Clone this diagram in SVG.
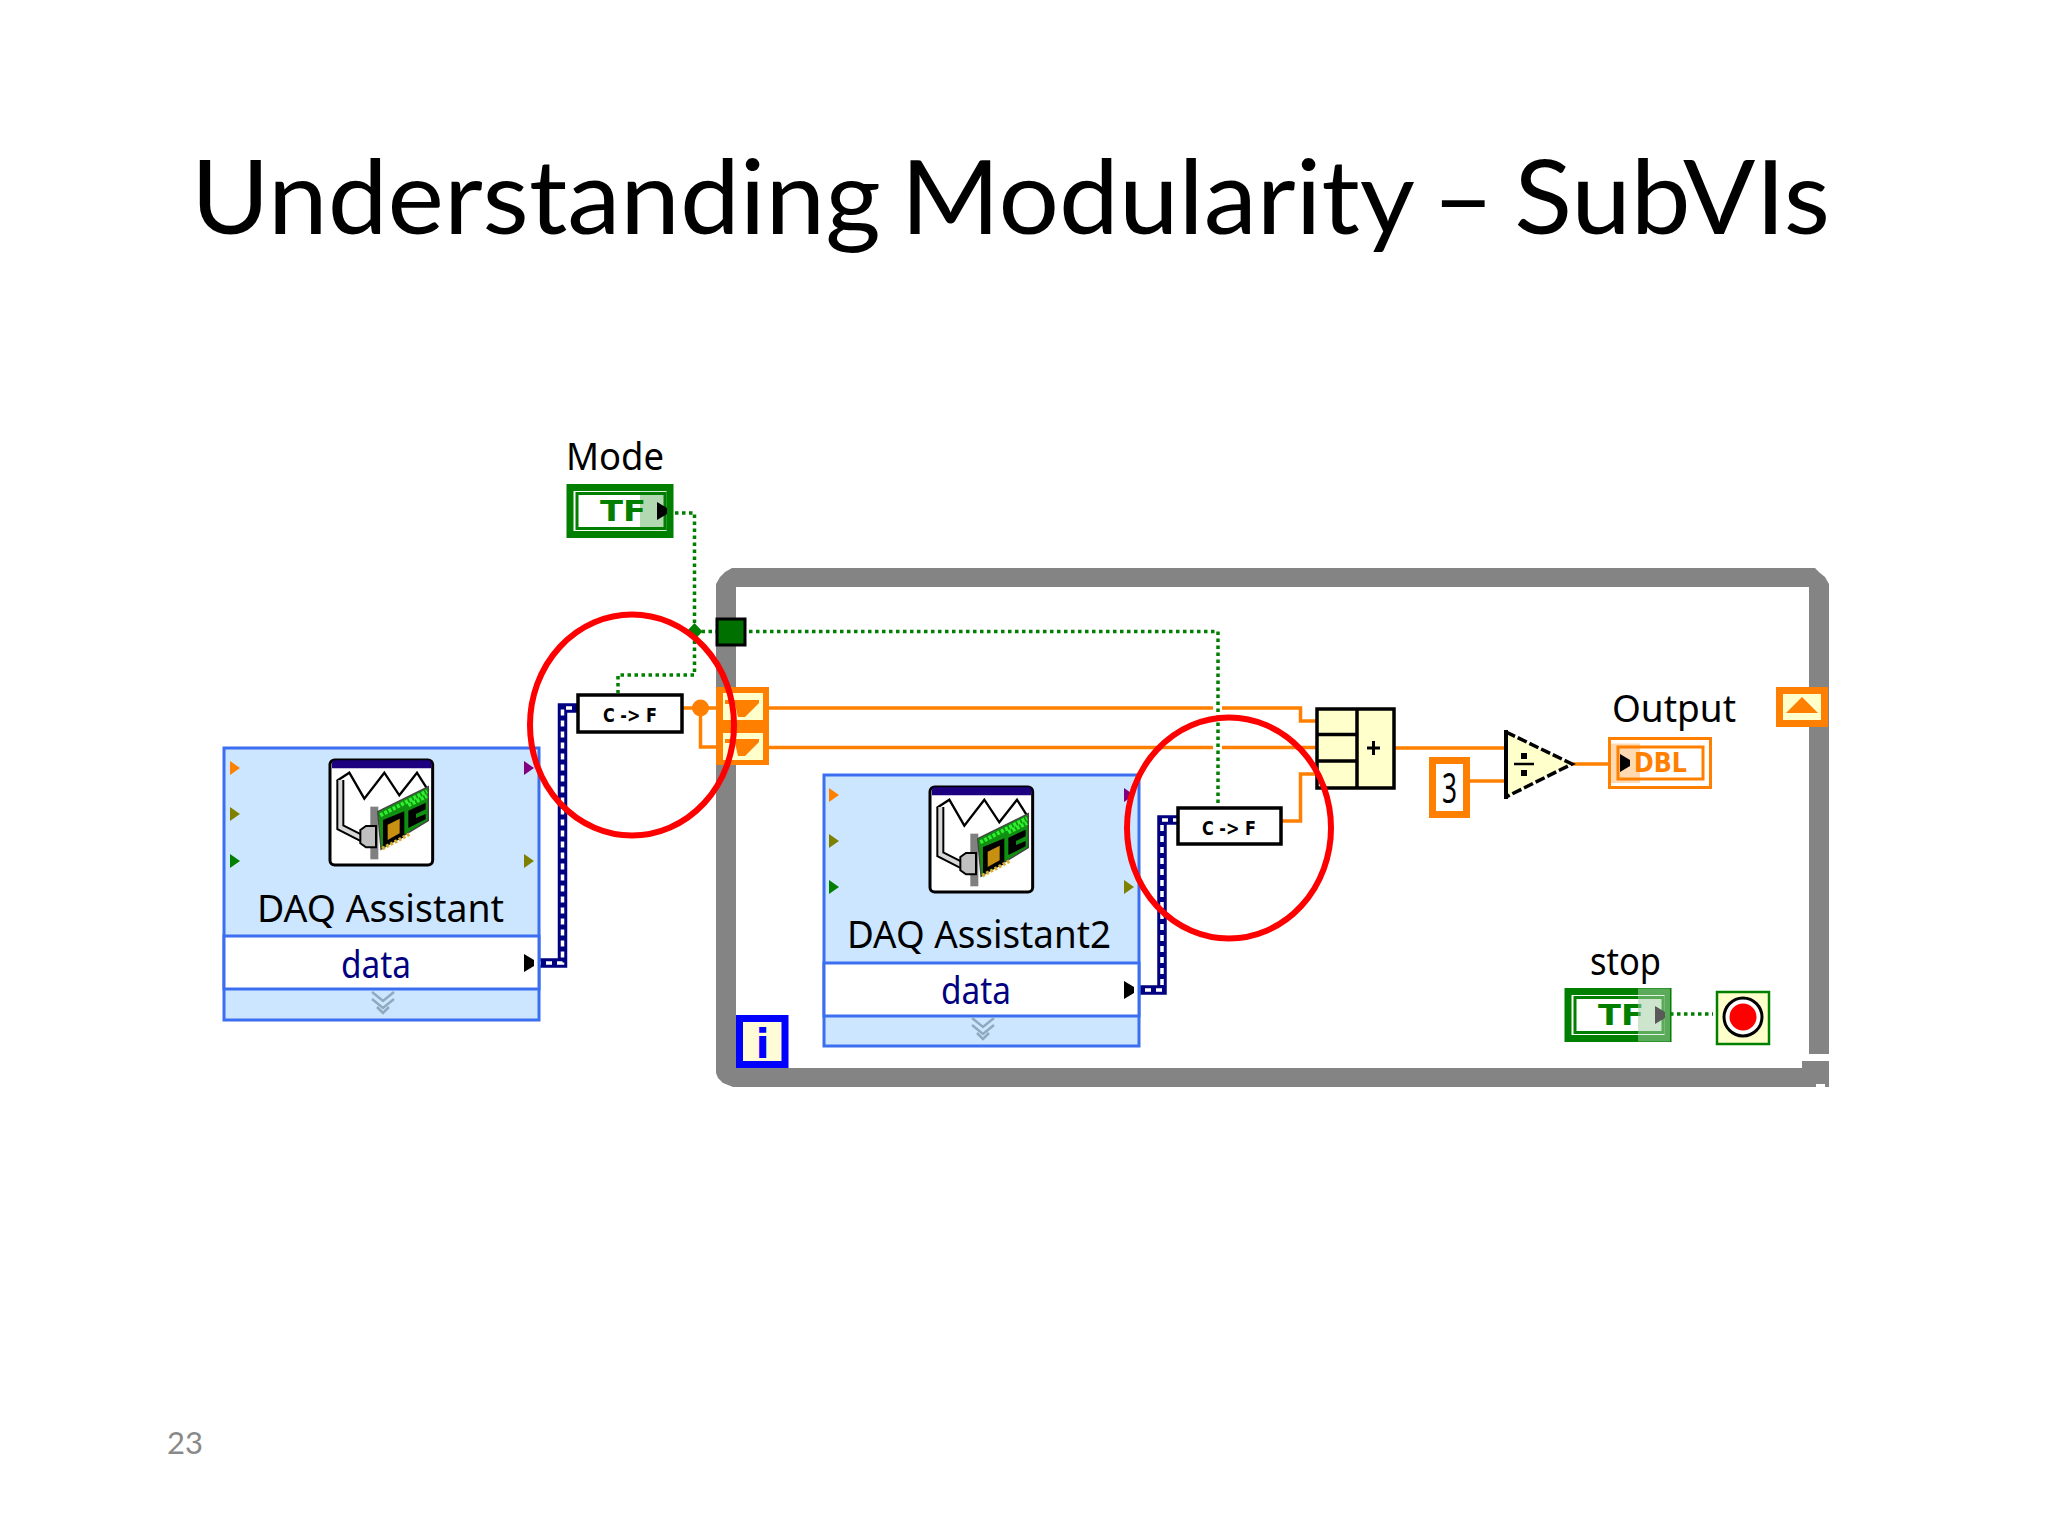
<svg xmlns="http://www.w3.org/2000/svg" xmlns:xlink="http://www.w3.org/1999/xlink" width="2048" height="1536" viewBox="0 0 2048 1536">
<style>
.lbl{font-family:"Noto Sans","DejaVu Sans",sans-serif;font-size:38px;fill:#000}
.data{font-family:"Noto Sans","DejaVu Sans",sans-serif;font-size:38px;fill:#000080}
.orange{fill:none;stroke:#ff8000;stroke-width:3.5}
.dot{fill:none;stroke:#007f00;stroke-width:3.5;stroke-dasharray:3.5 3.5}
.navy{fill:none;stroke:#000080;stroke-width:9.500}
.navyc{fill:none;stroke:#fff;stroke-width:3.500;stroke-dasharray:6 5}
.ring{fill:none;stroke:#f00;stroke-width:6}
.box{fill:#cce6ff;stroke:#3c6ff0;stroke-width:3}
.row{fill:#fff;stroke:#3c6ff0;stroke-width:3}
.cf{fill:#fff;stroke:#000;stroke-width:3.5}
.cft{font-family:"DejaVu Sans",sans-serif;font-weight:700;font-size:19px;fill:#000}
.pale{fill:#ffffcc}
.or{fill:#ff8000}
</style>
<defs>
<path id="tri" d="M0 -7L10 0L0 7Z"/>
<path id="tribig" d="M0 -9L10 -3V3L0 9Z"/>
<g id="icon" transform="scale(.3333)">
<rect x="27" y="30" width="308" height="315" rx="14" fill="#fff" stroke="#000" stroke-width="9"/>
<path d="M33 55V40q0-9 12-9H322q9 0 9 9V55Z" fill="#1c0080"/>
<path d="M48 92L85 68L130 146L190 68L235 136L288 68L322 122" fill="none" stroke="#000" stroke-width="7"/>
<path d="M58 90V232L125 266" fill="none" stroke="#000" stroke-width="24"/>
<path d="M58 90V232L125 266" fill="none" stroke="#d8d8d8" stroke-width="12"/>
<rect x="148" y="170" width="24" height="158" fill="#808080"/>
<path d="M118 240L135 228H165V292H135L118 280Z" fill="#c0c0c0" stroke="#000" stroke-width="6"/>
<path d="M170 185L322 110V212L180 298Z" fill="#109010" stroke="#444" stroke-width="4"/>
<path d="M178 196L318 124M262 166L318 138" stroke="#30f030" stroke-width="12" stroke-dasharray="9 5" fill="none"/>
<path d="M262 182L314 158V178L285 192V204L314 192V208L262 234Z" fill="#000"/>
<path d="M186 210L250 184V262L186 290Z" fill="#000"/>
<path d="M200 224L236 206V250L200 270Z" fill="#c89010"/>
<path d="M184 296L270 250" stroke="#d8b030" stroke-width="11" stroke-dasharray="8 6" fill="none"/>
</g>
<g id="chev" fill="none" stroke="#8fa9bf" stroke-width="2.5">
<path d="M-11 0L0 9L11 0"/><path d="M-11 7L0 16L11 7"/><path d="M-6 15L0 21L6 15"/>
</g>
<g id="tf">
<rect x="3" y="3" width="100" height="47" fill="#fff" stroke="#007f00" stroke-width="7"/>
<rect x="10" y="9" width="88" height="35" fill="#fff" stroke="#007f00" stroke-width="3"/>
<text x="33" y="36" font-family="'DejaVu Sans',sans-serif" font-weight="700" font-size="29" fill="#007f00" textLength="46" lengthAdjust="spacingAndGlyphs">TF</text>
<rect x="73" y="7" width="27" height="39" fill="#007f00" opacity=".3"/>
<use xlink:href="#tribig" href="#tribig" x="90" y="26.500" fill="#000"/>
</g>
</defs>
<rect width="2048" height="1536" fill="#fff"/>
<text id="title" x="191" y="234" font-family="Lato,'Noto Sans',sans-serif" font-size="102" fill="#000" style="word-spacing:-7px" textLength="1639" lengthAdjust="spacingAndGlyphs">Understanding Modularity – SubVIs</text>
<text id="page" x="167" y="1454" font-family="Lato,'Noto Sans',sans-serif" font-size="31" fill="#898989">23</text>

<g id="loop">
<path fill="#848484" d="M716 584L720 577L725 572L732 568H1815L1820 573L1825 577L1829 584V1054H1809V587H736V1068H1802V1061H1829V1087H1825V1084H1816V1087H733L723 1083L718 1078L716 1073Z"/>
</g>

<g id="connectors">
<path class="dot" d="M675 513H694.500V675H618V693"/>
<path class="dot" d="M694.500 631.500H717"/>
<path class="dot" d="M749 631.500H1218V803"/>
<path d="M694.500 623l8 8.500-8 8.500-8-8.500z" fill="#007f00"/>
<path class="orange" d="M682 708H717"/>
<path class="orange" d="M700.500 708V747H717"/>
<path class="orange" d="M769 708H1213M1222 708H1300.500V721H1316"/>
<path class="orange" d="M769 747.500H1213M1222 747.500H1316"/>
<path class="orange" d="M1281 821H1300.500V774H1316"/>
<path class="orange" d="M1394 748H1505"/>
<path class="orange" d="M1470 781H1505"/>
<path class="orange" d="M1572 764H1608"/>
<circle cx="700.500" cy="708" r="8.500" fill="#ff8000"/>
<path class="navy" d="M535 963H562.500V708H577"/>
<path class="navyc" d="M535 963H562.500V708H577"/>
<path class="navy" d="M1134 990H1162V820H1177"/>
<path class="navyc" d="M1134 990H1162V820H1177"/>
<path class="dot" d="M1670 1014H1713"/>
</g>

<g id="mode">
<text class="lbl" x="566" y="470" textLength="98" lengthAdjust="spacingAndGlyphs">Mode</text>
<use xlink:href="#tf" href="#tf" x="567" y="484.500"/>
</g>

<g id="sr-in">
<rect x="716" y="687" width="53" height="78" class="or"/>
<rect x="723" y="693" width="40" height="27" class="pale"/>
<rect x="723" y="733" width="40" height="27" class="pale"/>
<path id="sr-top" d="M725 700H759V703L745 717H738L735 704H725Z" class="or"/>
<path id="sr-bottom" d="M725 739H759V742L745 756H738L735 743H725Z" class="or"/>
</g>
<g id="sr-out">
<rect x="1779.500" y="690.500" width="45" height="33" class="pale" stroke="#ff8000" stroke-width="7"/>
<path d="M1786 713L1802 697L1818 713Z" class="or"/>
</g>
<g id="cond">
<rect x="717" y="619" width="28" height="26" fill="#007000" stroke="#000" stroke-width="3"/>
</g>

<g id="daq1">
<rect class="box" x="224" y="748" width="315" height="272"/>
<rect class="row" x="224" y="936" width="315" height="53"/>
<use xlink:href="#icon" href="#icon" x="321" y="750"/>
<text class="lbl" x="257" y="922" textLength="247" lengthAdjust="spacingAndGlyphs">DAQ Assistant</text>
<text class="data" x="341" y="978" textLength="70" lengthAdjust="spacingAndGlyphs">data</text>
<use xlink:href="#tri" href="#tri" x="230" y="768" fill="#ff8000"/>
<use xlink:href="#tri" href="#tri" x="230" y="814" fill="#808000"/>
<use xlink:href="#tri" href="#tri" x="230" y="861" fill="#007f00"/>
<use xlink:href="#tri" href="#tri" x="524" y="768" fill="#800080"/>
<use xlink:href="#tri" href="#tri" x="524" y="861" fill="#808000"/>
<use xlink:href="#tribig" href="#tribig" x="524" y="963" fill="#000"/>
<use xlink:href="#chev" href="#chev" x="383" y="992"/>
</g>

<g id="daq2">
<rect class="box" x="824" y="775" width="315" height="271"/>
<rect class="row" x="824" y="963" width="315" height="53"/>
<use xlink:href="#icon" href="#icon" x="921" y="777"/>
<text class="lbl" x="847" y="948" textLength="264" lengthAdjust="spacingAndGlyphs">DAQ Assistant2</text>
<text class="data" x="941" y="1004" textLength="70" lengthAdjust="spacingAndGlyphs">data</text>
<use xlink:href="#tri" href="#tri" x="829" y="795" fill="#ff8000"/>
<use xlink:href="#tri" href="#tri" x="829" y="841" fill="#808000"/>
<use xlink:href="#tri" href="#tri" x="829" y="887" fill="#007f00"/>
<use xlink:href="#tri" href="#tri" x="1124" y="795" fill="#800080"/>
<use xlink:href="#tri" href="#tri" x="1124" y="887" fill="#808000"/>
<use xlink:href="#tribig" href="#tribig" x="1124" y="990" fill="#000"/>
<use xlink:href="#chev" href="#chev" x="983" y="1018"/>
</g>

<g id="cf1">
<rect class="cf" x="578" y="695" width="104" height="37"/>
<text class="cft" x="603" y="722" textLength="54" lengthAdjust="spacingAndGlyphs">C -&gt; F</text>
</g>
<g id="cf2">
<rect class="cf" x="1178" y="808" width="103" height="36"/>
<text class="cft" x="1202" y="835" textLength="54" lengthAdjust="spacingAndGlyphs">C -&gt; F</text>
</g>

<g id="add">
<rect x="1317" y="709" width="77" height="79" class="pale" stroke="#000" stroke-width="3.500"/>
<path d="M1357 709V788M1317 734.500H1357M1317 761H1357" fill="none" stroke="#000" stroke-width="3.500"/>
<path d="M1367 748H1380M1373.500 741V755" fill="none" stroke="#000" stroke-width="3"/>
</g>

<g id="const3">
<rect x="1432.500" y="760.500" width="34" height="54" fill="#fff" stroke="#ff8000" stroke-width="7"/>
<text class="lbl" x="1442" y="803" style="font-size:42px" textLength="15" lengthAdjust="spacingAndGlyphs">3</text>
</g>

<g id="div">
<path d="M1506 732L1572 764L1506 797Z" class="pale"/>
<path d="M1506 730V799" stroke="#000" stroke-width="4" fill="none"/>
<path d="M1506 732L1572 764L1506 797" stroke="#000" stroke-width="3.500" stroke-dasharray="10 3" fill="none"/>
<rect x="1521" y="753" width="6" height="6"/><rect x="1521" y="770" width="6" height="6"/>
<path d="M1514 764H1534" stroke="#000" stroke-width="2.500"/>
</g>

<g id="output">
<text class="lbl" x="1612" y="722" textLength="124" lengthAdjust="spacingAndGlyphs">Output</text>
<rect x="1609.500" y="738.500" width="101" height="49" fill="#fff" stroke="#ff8000" stroke-width="3"/>
<rect x="1618" y="747" width="85" height="32" fill="#fff" stroke="#ff8000" stroke-width="3"/>
<text x="1634" y="772" font-family="'DejaVu Sans',sans-serif" font-weight="700" font-size="26" fill="#ff8000" textLength="53" lengthAdjust="spacingAndGlyphs">DBL</text>
<rect x="1609" y="743.500" width="31" height="39.500" fill="#ff8000" opacity=".3"/>
<use xlink:href="#tribig" href="#tribig" x="1620" y="763" fill="#000"/>
</g>

<g id="stop">
<text class="lbl" x="1590" y="975" textLength="71" lengthAdjust="spacingAndGlyphs">stop</text>
<use xlink:href="#tf" href="#tf" x="1565" y="988.500"/>
<rect x="1638" y="988.500" width="32" height="53" fill="#fff" opacity=".35"/>
</g>

<g id="stop-terminal">
<rect x="1717" y="992" width="52" height="52" class="pale" stroke="#007f00" stroke-width="2.500"/>
<circle cx="1743" cy="1017" r="19" fill="#fff" stroke="#000" stroke-width="3"/>
<circle cx="1743" cy="1017" r="13.500" fill="#f00"/>
</g>

<g id="iter">
<rect x="739.500" y="1018.500" width="45.500" height="46" fill="#fffbd6" stroke="#0000ff" stroke-width="7"/>
<text x="762.500" y="1058" text-anchor="middle" font-family="'DejaVu Sans',sans-serif" font-weight="700" font-size="40" fill="#0000ff">i</text>
</g>

<g id="highlights">
<ellipse class="ring" cx="632" cy="725" rx="102" ry="110.500"/>
<ellipse class="ring" cx="1229" cy="828" rx="102" ry="110.500"/>
</g>
</svg>
